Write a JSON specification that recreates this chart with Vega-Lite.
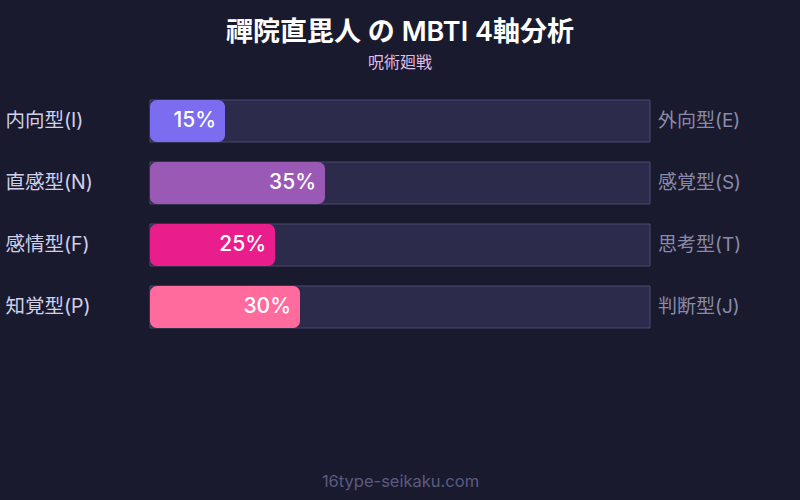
{
  "$schema": "https://vega.github.io/schema/vega-lite/v6.json",
  "autosize": "none",
  "width": 500,
  "height": 248,
  "padding": {"left": 150, "top": 90, "right": 150, "bottom": 162},
  "background": "#1a1a2e",
  "config": {"view": {"stroke": null}, "font": "Inter, Noto Sans CJK JP"},
  "title": {
    "text": "禪院直毘人 の MBTI 4軸分析",
    "subtitle": "呪術廻戦",
    "anchor": "middle",
    "color": "#ffffff",
    "fontSize": 27,
    "fontWeight": 600,
    "subtitleColor": "#e0bde6",
    "subtitleFontSize": 16,
    "subtitlePadding": 8,
    "offset": 18
  },
  "data": {
    "values": [
      {"left": "内向型(I)", "right": "外向型(E)", "value": 15, "full": 100, "label": "15%", "color": "#7b6cf0"},
      {"left": "直感型(N)", "right": "感覚型(S)", "value": 35, "full": 100, "label": "35%", "color": "#9b59b6"},
      {"left": "感情型(F)", "right": "思考型(T)", "value": 25, "full": 100, "label": "25%", "color": "#e91e8c"},
      {"left": "知覚型(P)", "right": "判断型(J)", "value": 30, "full": 100, "label": "30%", "color": "#ff6b9d"}
    ]
  },
  "encoding": {
    "y": {
      "field": "left",
      "type": "nominal",
      "sort": null,
      "scale": {"paddingInner": 0.3226, "paddingOuter": 0.1613},
      "axis": {
        "title": null,
        "ticks": false,
        "domain": false,
        "labelAlign": "left",
        "labelPadding": 145,
        "labelFontSize": 19.5,
        "labelColor": "#d0d0ea",
        "labelFont": "Inter, Noto Sans CJK JP"
      }
    }
  },
  "layer": [
    {
      "mark": {"type": "bar", "fill": "#2d2b4b", "stroke": "#4a4870", "strokeWidth": 1},
      "encoding": {
        "x": {
          "field": "full",
          "type": "quantitative",
          "scale": {"domain": [0, 100], "nice": false},
          "axis": {
            "title": "16type-seikaku.com",
            "labels": false,
            "ticks": false,
            "domain": false,
            "grid": false,
            "titlePadding": 135,
            "titleColor": "#5a5a80",
            "titleFontSize": 16.5,
            "titleFontWeight": "normal",
            "titleFont": "Inter, Noto Sans CJK JP"
          }
        }
      }
    },
    {
      "mark": {"type": "bar", "cornerRadius": 7},
      "encoding": {
        "x": {"field": "value", "type": "quantitative"},
        "color": {"field": "color", "type": "nominal", "scale": null}
      }
    },
    {
      "mark": {"type": "text", "align": "right", "dx": -9, "fontSize": 21, "fontWeight": 500, "color": "#ffffff"},
      "encoding": {
        "x": {"field": "value", "type": "quantitative"},
        "text": {"field": "label"}
      }
    },
    {
      "mark": {"type": "text", "align": "left", "dx": 8, "fontSize": 19, "color": "#8a8aa8"},
      "encoding": {
        "x": {"field": "full", "type": "quantitative"},
        "text": {"field": "right"}
      }
    }
  ]
}
